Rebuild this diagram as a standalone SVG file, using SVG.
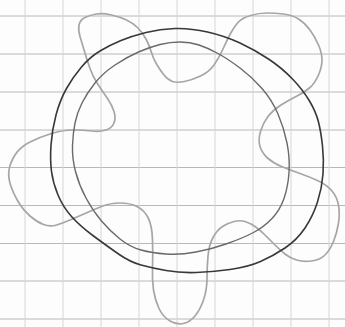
<svg xmlns="http://www.w3.org/2000/svg" width="345" height="327" viewBox="0 0 345 327">
<style>
.h{stroke:#b8b8b8;stroke-width:1}
.v{stroke:#d6d6d6;stroke-width:1}
.ring{fill:none;stroke-linecap:round;stroke-linejoin:round}
</style>
<rect width="345" height="327" fill="#fdfdfd"/>
<g id="grid">
<line class="h" x1="0" y1="16" x2="345" y2="16"/>
<line class="h" x1="0" y1="54" x2="345" y2="54"/>
<line class="h" x1="0" y1="92" x2="345" y2="92"/>
<line class="h" x1="0" y1="130" x2="345" y2="130"/>
<line class="h" x1="0" y1="167.5" x2="345" y2="167.5"/>
<line class="h" x1="0" y1="205.5" x2="345" y2="205.5"/>
<line class="h" x1="0" y1="243.5" x2="345" y2="243.5"/>
<line class="h" x1="0" y1="281" x2="345" y2="281"/>
<line class="h" x1="0" y1="319" x2="345" y2="319"/>
<line class="v" x1="25" y1="0" x2="25" y2="327"/>
<line class="v" x1="63" y1="0" x2="63" y2="327"/>
<line class="v" x1="101" y1="0" x2="101" y2="327"/>
<line class="v" x1="139" y1="0" x2="139" y2="327"/>
<line class="v" x1="177" y1="0" x2="177" y2="327"/>
<line class="v" x1="215" y1="0" x2="215" y2="327"/>
<line class="v" x1="253" y1="0" x2="253" y2="327"/>
<line class="v" x1="291" y1="0" x2="291" y2="327"/>
<line class="v" x1="329" y1="0" x2="329" y2="327"/>
</g>
<g id="wavy">
<path class="ring" stroke="#a6a6a6" stroke-width="1.7" d="M 79,25 Q 80,20 85,17.5 Q 90,15 96.5,14 Q 103,13 111.5,15 Q 120,17 126.5,20 Q 133,23 138,28 Q 143,33 146.5,40 Q 150,47 151.5,52.5 Q 153,58 156.5,64 Q 160,70 164,75 Q 168,80 172.5,81.5 Q 177,83 184.5,81.5 Q 192,80 200.5,76 Q 209,72 214,65 Q 219,58 223,49 Q 227,40 230.5,33.5 Q 234,27 238,22.5 Q 242,18 250.5,15.5 Q 259,13 267,13 Q 275,13 283.5,14 Q 292,15 298.5,19 Q 305,23 310,30 Q 315,37 318.5,45 Q 322,53 322,60 Q 322,67 318.5,75 Q 315,83 310,87.5 Q 305,92 297,96 Q 289,100 281,105 Q 273,110 268,116.5 Q 263,123 260.5,131.5 Q 258,140 260,146.5 Q 262,153 267.5,158 Q 273,163 281.5,166.5 Q 290,170 300,173.5 Q 310,177 318.5,181 Q 327,185 332,191 Q 337,197 338.5,205 Q 340,213 338.5,223 Q 337,233 333.5,241.5 Q 330,250 325,255 Q 320,260 311.5,261 Q 303,262 296.5,260 Q 290,258 285,254 Q 280,250 275,245 Q 270,240 265,235 Q 260,230 255,226.5 Q 250,223 245,221.5 Q 240,220 234,221.5 Q 228,223 222.5,226.5 Q 217,230 213,237.5 Q 209,245 208,256 Q 207,267 207,278.5 Q 207,290 203.5,300 Q 200,310 195,316 Q 190,322 183.5,323.5 Q 177,325 170,321 Q 163,317 159,308.5 Q 155,300 153.5,290 Q 152,280 152.5,267.5 Q 153,255 152.5,240 Q 152,225 148,217.5 Q 144,210 137,206.5 Q 130,203 120,203 Q 110,203 101.5,206.5 Q 93,210 85,213.5 Q 77,217 70,220 Q 63,223 56.5,225 Q 50,227 43.5,224.5 Q 37,222 30,216 Q 23,210 18,201.5 Q 13,193 10.5,185 Q 8,177 9,170 Q 10,163 15,155 Q 20,147 30,142 Q 40,137 51.5,133.5 Q 63,130 73,130 Q 83,130 91.5,131 Q 100,132 106,130 Q 112,128 114,123 Q 116,118 114,111.5 Q 112,105 107.5,98.5 Q 103,92 98,84.5 Q 93,77 90,68.5 Q 87,60 84.5,51.5 Q 82,43 80,36.5 Q 78,30 79,25 Z"/>
</g>
<g id="inner-ring">
<path class="ring" stroke="#6a6a6a" stroke-width="1.4" d="M 180,42 Q 190,42 199,45 Q 208,48 218,53.5 Q 228,59 240,68 Q 252,77 262,88.5 Q 272,100 278,114 Q 284,128 287,143 Q 290,158 289,172.5 Q 288,187 284,198.5 Q 280,210 272,218.5 Q 264,227 253.5,232.5 Q 243,238 227.5,243.5 Q 212,249 196,252 Q 180,255 166,254 Q 152,253 141,250 Q 130,247 120,239 Q 110,231 101.5,221 Q 93,211 86,198 Q 79,185 75.5,171.5 Q 72,158 72.5,145.5 Q 73,133 75,123 Q 77,113 82,103 Q 87,93 95,83 Q 103,73 115,65 Q 127,57 138.5,52 Q 150,47 160,44.5 Q 170,42 180,42 Z"/>
</g>
<g id="outer-ring">
<path class="ring" stroke="#383838" stroke-width="1.6" d="M 175,28.5 Q 190,28 207.5,32 Q 225,36 240,43 Q 255,50 268.5,59 Q 282,68 292.5,79 Q 303,90 309.5,101 Q 316,112 318.5,122 Q 321,132 322.5,146 Q 324,160 323,174 Q 322,188 317.5,202 Q 313,216 305,228 Q 297,240 285,248 Q 273,256 260.5,261.5 Q 248,267 230,269.5 Q 212,272 196,272.5 Q 180,273 166,270.5 Q 152,268 141,265 Q 130,262 118.5,254 Q 107,246 93.5,236 Q 80,226 71.5,216.5 Q 63,207 58,195 Q 53,183 51.5,171.5 Q 50,160 51,145 Q 52,130 56,115 Q 60,100 66.5,88.5 Q 73,77 81.5,67 Q 90,57 100,51 Q 110,45 121,40.5 Q 132,36 146,32.5 Q 160,29 175,28.5 Z"/>
</g>
</svg>
